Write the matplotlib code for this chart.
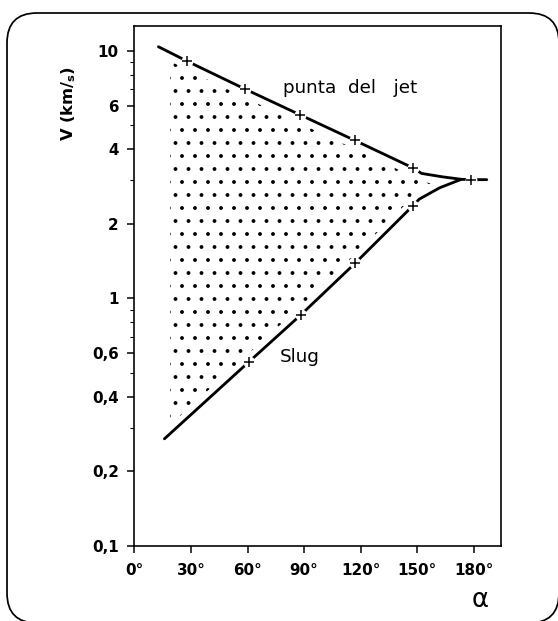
import numpy as np
import matplotlib
matplotlib.use("Agg")
import matplotlib.pyplot as plt
from matplotlib.patches import FancyBboxPatch
from matplotlib.ticker import FixedLocator, NullFormatter

# ---- data ----
upper_x = [12.7, 28.1, 58.6, 87.9, 117.0, 147.8, 152.4, 163.5, 173.5, 178.5, 187.0]
upper_v = [10.4, 9.08, 7.02, 5.52, 4.35, 3.37, 3.20, 3.10, 3.03, 3.02, 3.02]
lower_x = [15.9, 60.8, 88.2, 117.2, 147.8, 151.2, 162.0, 173.5]
lower_v = [0.271, 0.555, 0.857, 1.39, 2.37, 2.52, 2.80, 3.03]
upper_mark_x = [28.1, 58.6, 87.9, 117.0, 147.8, 178.5]
upper_mark_v = [9.08, 7.02, 5.52, 4.35, 3.37, 3.02]
lower_mark_x = [60.8, 88.2, 117.2, 147.8]
lower_mark_v = [0.555, 0.857, 1.39, 2.37]
fill_x = [19.0, 40.0, 60.8, 88.2, 117.2, 140.0, 151.0, 158.0]

x_ticks = [0, 30, 60, 90, 120, 150, 180]
x_labels = ["0°", "30°", "60°", "90°", "120°", "150°", "180°"]
y_ticks = [0.1, 0.2, 0.4, 0.6, 1, 2, 4, 6, 10]
y_labels = ["0,1", "0,2", "0,4", "0,6", "1", "2", "4", "6", "10"]
y_minor = [0.3, 0.5, 0.7, 0.8, 0.9, 3, 5, 7, 8, 9]

DPI = 78
plt.rcParams['hatch.linewidth'] = 1.1
plt.rcParams['font.family'] = ['DejaVu Sans']

fig = plt.figure(figsize=(558 / DPI, 621 / DPI), dpi=DPI)
ax = fig.add_axes([0.241, 0.1208, 0.657, 0.8373])

# rounded frame around the figure
box = FancyBboxPatch((7 / DPI, -2 / DPI), 552 / DPI, 610 / DPI,
                     boxstyle="round,pad=0,rounding_size=%f" % (30 / DPI),
                     transform=fig.dpi_scale_trans, fill=False,
                     edgecolor='black', linewidth=1.6, zorder=0)
fig.patches.append(box)

# dotted region between the two curves
lo_fill = 10 ** (np.interp(fill_x, lower_x, np.log10(lower_v)) + 0.035)
up_fill = 10 ** (np.interp(fill_x, upper_x, np.log10(upper_v)) - 0.035)
poly_x = list(fill_x) + list(fill_x[::-1])
poly_y = list(lo_fill) + list(up_fill[::-1])
ax.fill(poly_x, poly_y, facecolor='none', edgecolor='black', linewidth=0,
        hatch='.', zorder=1)

ax.plot(upper_x, upper_v, color='black', lw=2.6, solid_capstyle='round', zorder=2)
ax.plot(lower_x, lower_v, color='black', lw=2.6, solid_capstyle='round', zorder=2)

mx = upper_mark_x + lower_mark_x
mv = upper_mark_v + lower_mark_v
ax.plot(mx, mv, 'o', ms=11, mfc='white', mec='none', zorder=3)
ax.plot(mx, mv, '+', ms=9.5, mew=1.4, color='black', zorder=4)

ax.set_yscale('log')
ax.set_xlim(0, 194.6)
ax.set_ylim(0.1, 12.61)
ax.set_xticks(x_ticks)
ax.set_xticklabels(x_labels)
ax.yaxis.set_major_locator(FixedLocator(y_ticks))
ax.set_yticklabels(y_labels)
ax.yaxis.set_minor_locator(FixedLocator(y_minor))
ax.yaxis.set_minor_formatter(NullFormatter())
ax.xaxis.set_minor_locator(FixedLocator([]))

for s in ax.spines.values():
    s.set_linewidth(1.5)
ax.tick_params(axis='both', which='major', direction='out', length=6.5, width=1.4,
               labelsize=14)
ax.tick_params(axis='y', which='major', pad=8)
ax.tick_params(axis='x', which='major', pad=9)
ax.tick_params(axis='y', which='minor', direction='out', length=3.5, width=1.0)
for lab in ax.get_xticklabels() + ax.get_yticklabels():
    lab.set_fontweight('bold')

ax.text(79, 7.1, "punta  del   jet", ha='left', va='center', fontsize=17)
ax.text(77, 0.578, "Slug", ha='left', va='center', fontsize=17)

fig.text(69 / 558, 1 - 104 / 621, "V (km/$_\\mathregular{s}$)", rotation=90,
         ha='center', va='center', fontsize=15, fontweight='bold')
fig.text(480 / 558, 1 - 600 / 621, "α", ha='center', va='center', fontsize=24)

fig.savefig("out.png", dpi=DPI)
